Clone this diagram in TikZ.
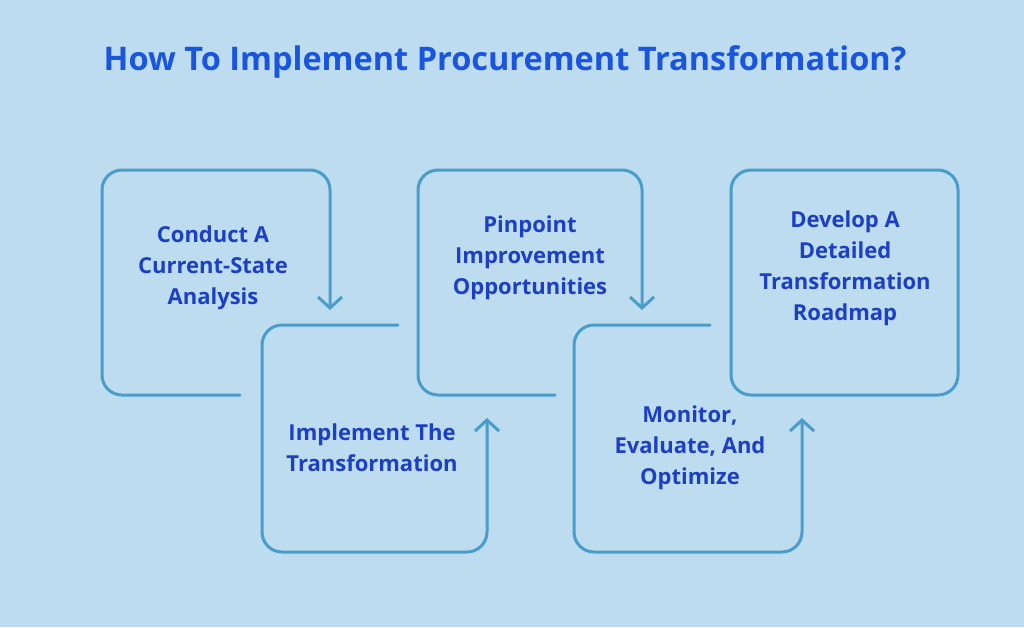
\documentclass[tikz,border=0pt]{standalone}
\usepackage{fontspec}
\setmainfont{Open Sans}
\usetikzlibrary{arrows.meta}
\definecolor{bgblue}{HTML}{BDDCEF}
\definecolor{lineblue}{HTML}{4A9CCB}
\definecolor{txtblue}{HTML}{1C3FC4}
\definecolor{titleblue}{HTML}{1A55E0}
\tikzset{
  flow/.style={draw=lineblue, line width=3pt, rounded corners=20pt, line cap=round},
  flowarrow/.style={flow, -{Straight Barb[length=11pt,width=24pt,line width=3pt]}},
  steptext/.style={text=txtblue, font=\fontsize{22}{31}\selectfont\bfseries, align=center}
}
\begin{document}
\begin{tikzpicture}[x=1pt,y=-1pt]
\fill[bgblue] (0,0) rectangle (1024,627);
\useasboundingbox (0,0) rectangle (1024,627);
\node[text=titleblue, font=\fontsize{32.5}{36}\selectfont\bfseries] (title) at (505,62) {How To Implement Procurement Transformation?};

% open boxes with arrows
\draw[flowarrow] (240,395) -- (102,395) -- (102,170) -- (330,170) -- (330,310);
\draw[flowarrow] (398,325) -- (262,325) -- (262,552) -- (487,552) -- (487,418);
\draw[flowarrow] (555,395) -- (418,395) -- (418,170) -- (642,170) -- (642,310);
\draw[flowarrow] (710,325) -- (574,325) -- (574,552) -- (802,552) -- (802,418);
\draw[flow] (731,170) rectangle (958,395);

\node[steptext] (s1) at (213,268) {Conduct A\\Current-State\\Analysis};
\node[steptext] (s2) at (372,448) {Implement The\\Transformation};
\node[steptext] (s3) at (530,258) {Pinpoint\\Improvement\\Opportunities};
\node[steptext] (s4) at (690,448) {Monitor,\\Evaluate, And\\Optimize};
\node[steptext] (s5) at (845,268) {Develop A\\Detailed\\Transformation\\Roadmap};
\end{tikzpicture}
\end{document}
